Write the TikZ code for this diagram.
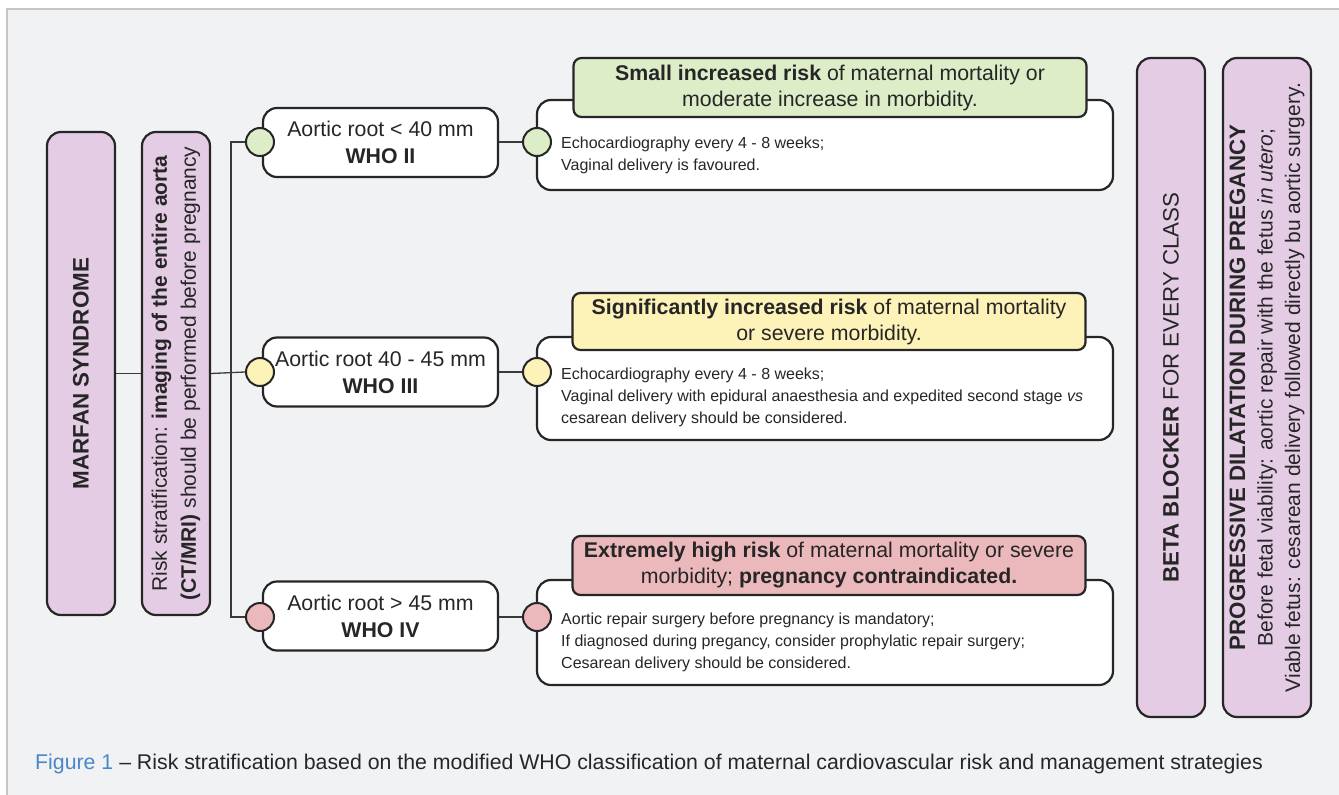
\documentclass[tikz,border=0pt]{standalone}
\usepackage{fontspec}
\setmainfont{Liberation Sans}
\usetikzlibrary{positioning}
\definecolor{bgcol}{HTML}{F1F2F4}
\definecolor{framecol}{HTML}{C6C6C6}
\definecolor{lilac}{HTML}{E3CCE4}
\definecolor{grncol}{HTML}{DCEDC8}
\definecolor{yelcol}{HTML}{FDF2B8}
\definecolor{redcol}{HTML}{EBB8BC}
\definecolor{inkcol}{HTML}{262626}
\definecolor{linecol}{HTML}{3A3A3A}
\definecolor{capblue}{HTML}{4A86C8}

\begin{document}
\begin{tikzpicture}[x=1pt, y=-1pt,
    purplebox/.style={draw=inkcol, line width=2.2pt, fill=lilac, rounded corners=14pt, rotate=90,
        inner sep=0pt, align=center, text=inkcol},
    whobox/.style={draw=inkcol, line width=2.2pt, fill=white, rounded corners=14pt, minimum width=235pt,
        minimum height=69pt, inner sep=0pt, align=center, text=inkcol, font=\fontsize{21.3}{27}\selectfont},
    detailbox/.style={draw=inkcol, line width=2.2pt, fill=white, rounded corners=14pt, minimum width=576pt,
        inner sep=0pt},
    headbox/.style={draw=inkcol, line width=2.2pt, rounded corners=8pt, minimum width=513pt,
        inner sep=0pt, align=center, text=inkcol, font=\fontsize{21.3}{26}\selectfont},
    detailtext/.style={anchor=west, inner sep=0pt, align=left, text=inkcol, font=\fontsize{16}{22}\selectfont},
    dot/.style={circle, draw=inkcol, line width=2pt, minimum size=28pt, inner sep=0pt},
    link/.style={draw=linecol, line width=1.3pt}
]
    \useasboundingbox (0,0) rectangle (1339,795);
    \fill[bgcol] (7,9) rectangle (1339,795);
    \draw[framecol, line width=1.5pt] (7,795) -- (7,9) -- (1339,9);

    % left column
    \node[purplebox, minimum width=483pt, minimum height=68pt, font=\bfseries\fontsize{22.4}{26}\selectfont]
        (marfan) at (81,373.5) {MARFAN SYNDROME};
    \node[purplebox, minimum width=483pt, minimum height=68pt, font=\fontsize{21}{29}\selectfont]
        (risk) at (176,373.5) {Risk stratification: \textbf{imaging of the entire aorta}\\
        \textbf{(CT/MRI)} should be performed before pregnancy};

    % WHO classes
    \node[whobox] (whoA) at (380.5,142.5) {Aortic root < 40 mm\\\textbf{WHO II}};
    \node[whobox] (whoB) at (380.5,372) {Aortic root 40 - 45 mm\\\textbf{WHO III}};
    \node[whobox] (whoC) at (380.5,616) {Aortic root > 45 mm\\\textbf{WHO IV}};

    \node[dot, fill=grncol] (inA) at (260,142) {};
    \node[dot, fill=yelcol] (inB) at (260,372) {};
    \node[dot, fill=redcol] (inC) at (260,617) {};

    \draw[link] (marfan.south) -- (risk.north);
    \draw[link] (risk.south) -- (inB.west);
    \draw[link] (inA.west) -- ++(-14,0) coordinate (trunkA) |- (inC.west);

    % management boxes
    \node[detailbox, minimum height=90pt] (detA) at (825,145) {};
    \node[detailbox, minimum height=103pt] (detB) at (825,388.5) {};
    \node[detailbox, minimum height=105pt] (detC) at (825,632.5) {};

    \node[headbox, fill=grncol, minimum height=59pt] (headA) at (830,87.5)
        {\textbf{Small increased risk} of maternal mortality or\\moderate increase in morbidity.};
    \node[headbox, fill=yelcol, minimum height=57pt] (headB) at (829,321.5)
        {\textbf{Significantly increased risk} of maternal mortality\\or severe morbidity.};
    \node[headbox, fill=redcol, minimum height=59pt] (headC) at (829,565.5)
        {\textbf{Extremely high risk} of maternal mortality or severe\\morbidity; \textbf{pregnancy contraindicated.}};

    \node[detailtext] (txtA) at (561,155) {Echocardiography every 4 - 8 weeks;\\Vaginal delivery is favoured.};
    \node[detailtext] (txtB) at (561,397) {Echocardiography every 4 - 8 weeks;\\
        Vaginal delivery with epidural anaesthesia and expedited second stage \textit{vs}\\
        cesarean delivery should be considered.};
    \node[detailtext] (txtC) at (561,642.5) {Aortic repair surgery before pregnancy is mandatory;\\
        If diagnosed during pregancy, consider prophylatic repair surgery;\\
        Cesarean delivery should be considered.};

    \node[dot, fill=grncol] (outA) at (537,142) {};
    \node[dot, fill=yelcol] (outB) at (537,372) {};
    \node[dot, fill=redcol] (outC) at (537,617) {};

    \draw[link] (whoA.east |- outA) -- (outA.west);
    \draw[link] (whoB.east |- outB) -- (outB.west);
    \draw[link] (whoC.east |- outC) -- (outC.west);

    % right column
    \node[purplebox, minimum width=659pt, minimum height=68pt, font=\fontsize{22.3}{26}\selectfont]
        (beta) at (1171,387.5) {\textbf{BETA BLOCKER} FOR EVERY CLASS};
    \node[purplebox, minimum width=659pt, minimum height=88pt, font=\fontsize{21}{27.5}\selectfont]
        (dilat) at (1267,387.5) {{\fontsize{22.3}{27.5}\selectfont\textbf{PROGRESSIVE DILATATION DURING PREGANCY}}\\
        Before fetal viability: aortic repair with the fetus \textit{in utero};\\
        Viable fetus: cesarean delivery followed directly bu aortic surgery.};

    \node[anchor=base west, inner sep=0pt, text=inkcol, font=\fontsize{21.3}{25}\selectfont] (caption) at (35,769)
        {\textcolor{capblue}{Figure 1} – Risk stratification based on the modified WHO classification of maternal cardiovascular risk and management strategies};
\end{tikzpicture}
\end{document}
